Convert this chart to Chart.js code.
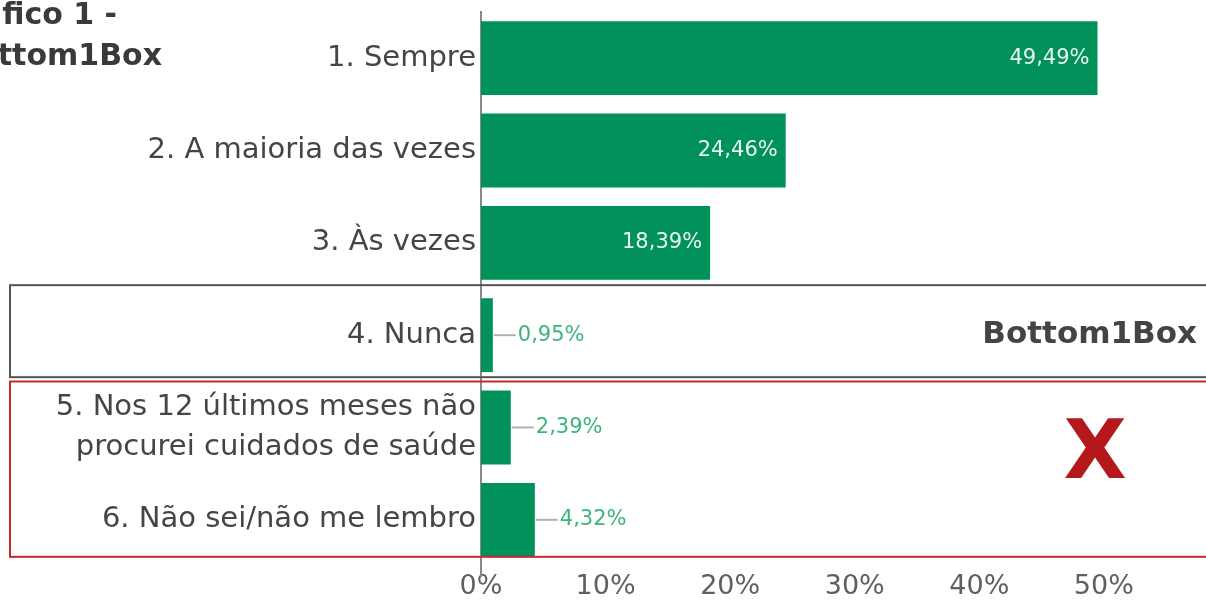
<!DOCTYPE html>
<html lang="pt">
<head>
    <meta charset="UTF-8">
    <title>Gráfico 1 - Bottom1Box</title>
    <script src="https://cdn.jsdelivr.net/npm/chart.js"></script>
    <style>
        body {
            margin: 0;
            background: #ffffff;
            overflow: hidden;
        }
        .chart-container {
            position: relative;
            width: 1206px;
            height: 601px;
        }
    </style>
</head>
<body>
    <div class="chart-container">
        <canvas id="myChart"></canvas>
    </div>

    <script>
        const categories = [
            "1. Sempre",
            "2. A maioria das vezes",
            "3. Às vezes",
            "4. Nunca",
            ["5. Nos 12 últimos meses não", "procurei cuidados de saúde"],
            "6. Não sei/não me lembro"
        ];
        const values = [49.49, 24.46, 18.39, 0.95, 2.39, 4.32];
        const xTicks = [0, 10, 20, 30, 40, 50];
        const titleLines = ["Gráfico 1 -", "Bottom1Box"];
        const boxLabel = "Bottom1Box";

        const FONT = "'DejaVu Sans', sans-serif";
        const GREEN = "#00925a";

        function fmt(v) {
            return v.toFixed(2).replace('.', ',') + '%';
        }

        // value labels: inside the long bars, with a leader line beside the short ones
        const valueLabels = {
            id: 'valueLabels',
            afterDatasetsDraw(chart) {
                const ctx = chart.ctx;
                const meta = chart.getDatasetMeta(0);
                ctx.save();
                ctx.font = "21px " + FONT;
                ctx.textBaseline = 'middle';
                meta.data.forEach((bar, i) => {
                    const v = values[i];
                    if (v > 10) {
                        ctx.fillStyle = 'rgba(255,255,255,0.92)';
                        ctx.textAlign = 'right';
                        ctx.fillText(fmt(v), bar.x - 8, bar.y);
                    } else {
                        ctx.strokeStyle = '#b0b0b0';
                        ctx.lineWidth = 2;
                        ctx.beginPath();
                        ctx.moveTo(bar.x + 1, bar.y);
                        ctx.lineTo(bar.x + 23, bar.y);
                        ctx.stroke();
                        ctx.fillStyle = '#3fb47a';
                        ctx.textAlign = 'left';
                        ctx.fillText(fmt(v), bar.x + 25, bar.y);
                    }
                });
                ctx.restore();
            }
        };

        // boxes, title and the Bottom1Box / X marks
        const overlays = {
            id: 'overlays',
            afterDraw(chart) {
                const ctx = chart.ctx;
                const y = chart.scales.y;
                const area = chart.chartArea;
                ctx.save();

                // axis line runs a little below the plot
                ctx.strokeStyle = '#8a8a8a';
                ctx.lineWidth = 2;
                ctx.beginPath();
                ctx.moveTo(area.left, area.bottom);
                ctx.lineTo(area.left, area.bottom + 11);
                ctx.stroke();

                const y3 = y.getPixelForValue(3);
                const y4 = y.getPixelForValue(4);
                const y5 = y.getPixelForValue(5);

                ctx.lineWidth = 2;
                ctx.strokeStyle = '#555555';
                ctx.strokeRect(10, y3 - 50, 1220, 92);

                ctx.strokeStyle = '#c8282c';
                ctx.strokeRect(10, y4 - 46, 1220, y5 + 37 - (y4 - 46));

                ctx.fillStyle = '#444444';
                ctx.font = "bold 31px " + FONT;
                ctx.textAlign = 'right';
                ctx.textBaseline = 'alphabetic';
                ctx.fillText(boxLabel, 1197, y3 + 8);

                ctx.fillStyle = '#b5181b';
                ctx.font = "bold 82px " + FONT;
                ctx.textAlign = 'center';
                ctx.fillText("X", 1095, (y4 + y5) / 2 + 4);

                ctx.fillStyle = '#3a3a3a';
                ctx.font = "bold 30px " + FONT;
                ctx.textAlign = 'right';
                ctx.fillText(titleLines[0], 117, 24);
                ctx.fillText(titleLines[1], 162, 65);

                ctx.restore();
            }
        };

        const ctx = document.getElementById('myChart').getContext('2d');
        const myChart = new Chart(ctx, {
            type: 'bar',
            data: {
                labels: categories,
                datasets: [{
                    data: values,
                    backgroundColor: GREEN,
                    barPercentage: 1.0,
                    categoryPercentage: 0.8
                }]
            },
            options: {
                indexAxis: 'y',
                responsive: true,
                maintainAspectRatio: false,
                animation: false,
                layout: { padding: { top: 12, right: 0, left: 0, bottom: 0 } },
                plugins: {
                    legend: { display: false },
                    tooltip: { enabled: false }
                },
                scales: {
                    x: {
                        min: 0,
                        max: 58.2,
                        grid: { display: false, drawTicks: false },
                        border: { display: false },
                        afterBuildTicks: (scale) => {
                            scale.ticks = xTicks.map(v => ({ value: v }));
                        },
                        afterFit: (scale) => {
                            scale.height = 35;
                            scale.paddingLeft = 0;
                            scale.paddingRight = 0;
                        },
                        ticks: {
                            padding: 5,
                            color: '#606060',
                            font: { family: FONT, size: 27 },
                            callback: (v) => v + '%'
                        }
                    },
                    y: {
                        grid: { display: false, drawTicks: false },
                        border: { display: true, color: '#8a8a8a', width: 2 },
                        afterFit: (scale) => {
                            scale.width = 481;
                            scale.paddingTop = 0;
                            scale.paddingBottom = 0;
                        },
                        ticks: {
                            padding: 5,
                            color: '#454545',
                            font: { family: FONT, size: 29, lineHeight: 1.35 }
                        }
                    }
                }
            },
            plugins: [valueLabels, overlays]
        });
    </script>
</body>
</html>
